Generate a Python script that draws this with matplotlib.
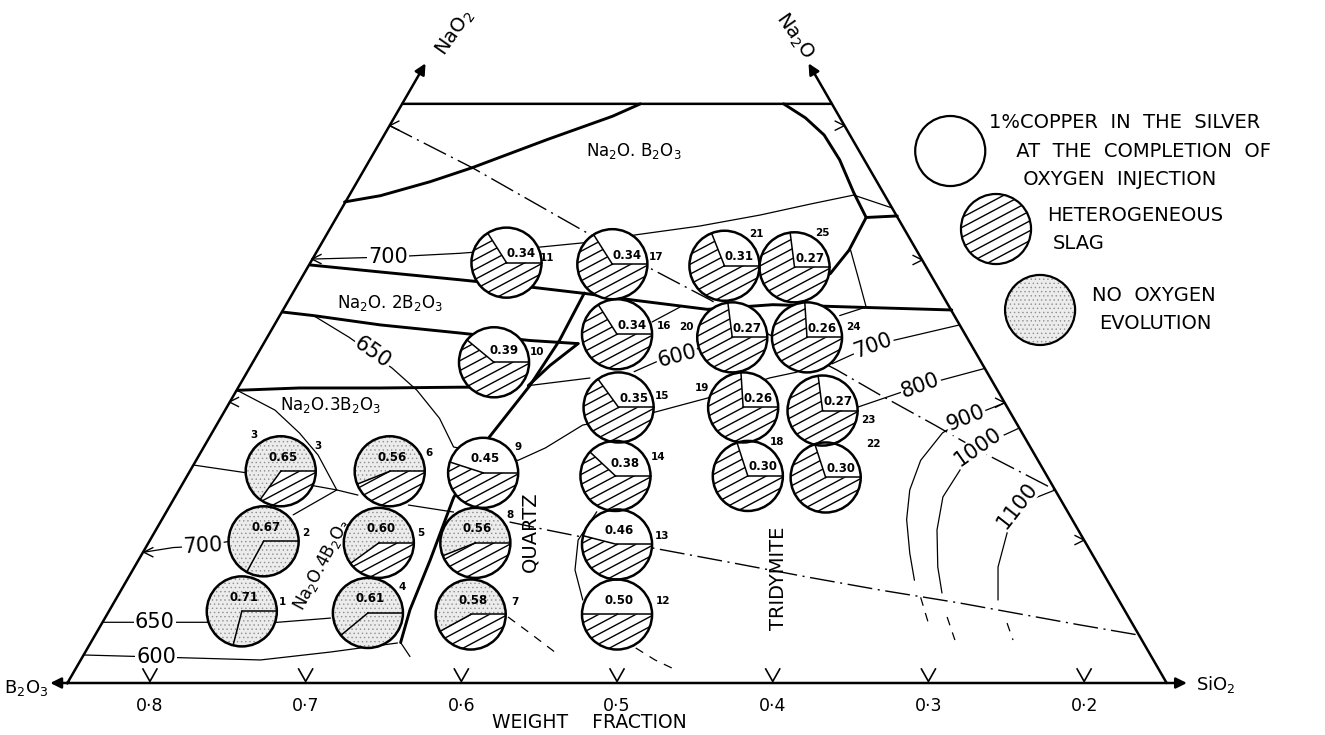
import numpy as np
import matplotlib
matplotlib.use("Agg")
from matplotlib import pyplot as plt
from matplotlib.patches import Wedge, Circle

plt.rcParams['font.family'] = ['DejaVu Sans']
plt.rcParams['hatch.linewidth'] = 0.5

# ---- data (x = weight fraction on the bottom scale, h = height in the same units)
circle_id = list(range(1, 26))
circle_x = [0.741, 0.727, 0.716, 0.660, 0.653, 0.646, 0.594, 0.591, 0.586, 0.579,
            0.571, 0.500, 0.500, 0.501, 0.499, 0.500, 0.503, 0.416, 0.419, 0.426,
            0.431, 0.366, 0.368, 0.378, 0.386]
circle_h = [0.046, 0.091, 0.136, 0.045, 0.090, 0.136, 0.044, 0.090, 0.135, 0.206,
            0.270, 0.044, 0.089, 0.133, 0.177, 0.224, 0.269, 0.133, 0.177, 0.222,
            0.268, 0.132, 0.175, 0.222, 0.267]
copper = [0.71, 0.67, 0.65, 0.61, 0.60, 0.56, 0.58, 0.56, 0.45, 0.39,
          0.34, 0.50, 0.46, 0.38, 0.35, 0.34, 0.34, 0.30, 0.26, 0.27,
          0.31, 0.30, 0.27, 0.26, 0.27]
# s = no oxygen evolution, sh = no evolution + heterogeneous slag, wh = heterogeneous slag
slag = ['s', 's', 'sh', 's', 'sh', 'sh', 'sh', 'sh'] + ['wh'] * 17

tick_values = [0.8, 0.7, 0.6, 0.5, 0.4, 0.3, 0.2]
tick_labels = ["0·8", "0·7", "0·6", "0·5", "0·4", "0·3", "0·2"]

corners = [(0.853, 0.0), (0.638, 0.372), (0.362, 0.372), (0.147, 0.0)]

# phase boundaries
bnd_nb = [(0.675, 0.309), (0.652, 0.313), (0.620, 0.322), (0.593, 0.331), (0.545, 0.349),
          (0.503, 0.364), (0.485, 0.372)]
bnd_right = [(0.393, 0.372), (0.379, 0.363), (0.367, 0.352), (0.357, 0.336), (0.348, 0.315),
             (0.340, 0.299), (0.351, 0.278), (0.363, 0.263), (0.372, 0.258)]
bnd_right2 = [(0.340, 0.299), (0.320, 0.300)]
bnd_n2b = [(0.697, 0.2685), (0.652, 0.264), (0.601, 0.259), (0.553, 0.254), (0.519, 0.250),
           (0.490, 0.246), (0.442, 0.240), (0.400, 0.243), (0.350, 0.2415), (0.285, 0.2396)]
bnd_n3b = [(0.715, 0.2383), (0.695, 0.236), (0.652, 0.230), (0.601, 0.2248), (0.556, 0.220),
           (0.525, 0.218)]
bnd_n4b = [(0.744, 0.188), (0.704, 0.1895), (0.652, 0.1895), (0.601, 0.190), (0.590, 0.190)]
bnd_quartz = [(0.521, 0.2505), (0.537, 0.220), (0.556, 0.191), (0.582, 0.158), (0.605, 0.119),
              (0.620, 0.079), (0.633, 0.047), (0.639, 0.026)]
bnd_quartz2 = [(0.525, 0.218), (0.543, 0.204), (0.557, 0.191)]

# isotherms
iso_700_top = [(0.696, 0.2723), (0.647, 0.2736), (0.601, 0.276), (0.5495, 0.280), (0.519, 0.283),
               (0.487, 0.288), (0.447, 0.2935), (0.408, 0.3006), (0.376, 0.3076), (0.348, 0.3134)]
iso_650_mid = [(0.695, 0.236), (0.672, 0.222), (0.6445, 0.2023), (0.6285, 0.188), (0.614, 0.170),
               (0.605, 0.1516), (0.5636, 0.143), (0.546, 0.151), (0.522, 0.1657), (0.4756, 0.174),
               (0.442, 0.183), (0.4018, 0.196), (0.3844, 0.1997)]
iso_600_mid = [(0.489, 0.200), (0.472, 0.2075), (0.4615, 0.210), (0.4435, 0.2164)]
iso_700_right = [(0.362, 0.205), (0.3356, 0.217), (0.280, 0.230)]
iso_800 = [(0.346, 0.177), (0.305, 0.191), (0.264, 0.202)]
iso_900 = [(0.251, 0.180), (0.276, 0.170), (0.291, 0.1606), (0.305, 0.143), (0.312, 0.124),
           (0.314, 0.105), (0.312, 0.0835), (0.309, 0.066)]
iso_1000 = [(0.2416, 0.1638), (0.268, 0.1516), (0.2785, 0.1387), (0.2907, 0.1195),
            (0.2945, 0.0983), (0.294, 0.0745), (0.2913, 0.0578)]
iso_1100 = [(0.2186, 0.124), (0.243, 0.1143), (0.2495, 0.0963), (0.2553, 0.0745), (0.2553, 0.0533)]
iso_700_low = [(0.804, 0.084), (0.785, 0.087), (0.766, 0.088), (0.749, 0.091)]
iso_650_low = [(0.830, 0.039), (0.797, 0.039), (0.763, 0.039), (0.718, 0.039), (0.684, 0.0417)]
iso_600_low = [(0.8426, 0.018), (0.796, 0.0167), (0.729, 0.0148), (0.684, 0.0199), (0.641, 0.0257)]

other_thin = [
    [(0.744, 0.188), (0.7197, 0.1753), (0.704, 0.1606), (0.692, 0.1464), (0.680, 0.124), (0.6664, 0.1207)],
    [(0.708, 0.108), (0.680, 0.124)],
    [(0.6966, 0.127), (0.680, 0.124)],
    [(0.634, 0.1143), (0.605, 0.1098)],
    [(0.772, 0.140), (0.738, 0.135)],
    [(0.639, 0.026), (0.633, 0.017)],
    [(0.513, 0.110), (0.525, 0.0918), (0.527, 0.0726), (0.522, 0.0533)],
    [(0.557, 0.191), (0.5174, 0.1959)],
    [(0.4775, 0.2319), (0.4595, 0.2415)],
    [(0.350, 0.278), (0.345, 0.260), (0.340, 0.2415)],
    [(0.357, 0.236), (0.340, 0.2415)],
    [(0.348, 0.3134), (0.323, 0.305)],
]

dashdot_upper = [(0.646, 0.358), (0.593, 0.331), (0.556, 0.310), (0.519, 0.289), (0.479, 0.2665),
                 (0.440, 0.246), (0.4018, 0.2235), (0.3587, 0.201), (0.331, 0.185), (0.296, 0.1657),
                 (0.265, 0.148), (0.2186, 0.124)]
dashdot_lower = [(0.569, 0.1034), (0.545, 0.0983), (0.5225, 0.0938), (0.477, 0.0867), (0.4255, 0.0771),
                 (0.378, 0.0681), (0.331, 0.0597), (0.280, 0.0514), (0.2027, 0.0373), (0.165, 0.0308)]
dashed = [
    [(0.305, 0.055), (0.299, 0.035)],
    [(0.288, 0.0424), (0.283, 0.0276)],
    [(0.2495, 0.0385), (0.2457, 0.0276)],
    [(0.570, 0.0424), (0.556, 0.0321), (0.540, 0.0199)],
    [(0.488, 0.0225), (0.4756, 0.0148), (0.462, 0.0083)],
]

iso_labels = ["700", "650", "600", "700", "800", "900", "1000", "1100", "700", "650", "600"]
legend_lines = [["1%COPPER  IN  THE  SILVER", " AT  THE  COMPLETION  OF", " OXYGEN  INJECTION"],
                ["HETEROGENEOUS", "SLAG"],
                ["NO  OXYGEN", "EVOLUTION"]]

# ---- drawing
fig = plt.figure(figsize=(13.25, 7.35), dpi=100)
ax = fig.add_axes([0, 0, 1, 1])
ax.set_xlim(0.8963, 0.0453)
ax.set_ylim(-0.0334, 0.4387)
ax.axis('off')

R = 0.0225
HATCH_ANG = np.radians(28)


def line(pts, **kw):
    p = np.array(pts)
    ax.plot(p[:, 0], p[:, 1], color='k', solid_capstyle='round', **kw)


# triangle
tri = np.array(corners + [corners[0]])
ax.plot(tri[:, 0], tri[:, 1], color='k', lw=1.8, zorder=3)
arrow = dict(arrowstyle='-|>', lw=1.8, color='k', mutation_scale=16, shrinkA=0, shrinkB=0)
ax.annotate('', xy=(0.623, 0.398), xytext=corners[1], arrowprops=arrow)
ax.annotate('', xy=(0.377, 0.398), xytext=corners[2], arrowprops=arrow)
ax.annotate('', xy=(0.864, 0.0), xytext=corners[0], arrowprops=arrow)
ax.annotate('', xy=(0.134, 0.0), xytext=corners[3], arrowprops=arrow)

for c in [bnd_nb, bnd_right, bnd_right2, bnd_n2b, bnd_n3b, bnd_n4b, bnd_quartz, bnd_quartz2]:
    line(c, lw=2.1, zorder=2)
for c in [iso_700_top, iso_650_mid, iso_600_mid, iso_700_right, iso_800, iso_900, iso_1000,
          iso_1100, iso_700_low, iso_650_low, iso_600_low] + other_thin:
    line(c, lw=0.9, zorder=2)
for c in [dashdot_upper, dashdot_lower]:
    line(c, lw=1.0, zorder=2, linestyle=(0, (18, 4, 1.5, 4)))
for c in dashed:
    line(c, lw=0.9, zorder=2, linestyle=(0, (7, 6)))

# chevrons on the edges
a = 0.0065
for (x, h) in [(0.646, 0.358), (0.696, 0.2723), (0.749, 0.1805), (0.804, 0.084)]:
    ax.plot([x - a * 0.9, x, x - a * 0.9], [h + a * 0.45, h, h - a * 0.45], color='k', lw=1.0)
for (x, h) in [(0.354, 0.358), (0.304, 0.2717), (0.251, 0.180), (0.200, 0.0918)]:
    ax.plot([x + a * 0.9, x, x + a * 0.9], [h + a * 0.45, h, h - a * 0.45], color='k', lw=1.0)

# bottom ticks and labels
for v, lab in zip(tick_values, tick_labels):
    ax.plot([v + 0.0045, v, v - 0.0045], [0.009, 0.001, 0.009], color='k', lw=1.2)
    ax.text(v, -0.0145, lab, ha='center', va='center', fontsize=12.5)
ax.text(0.518, -0.0255, "WEIGHT    FRACTION", ha='center', va='center', fontsize=13.5)
ax.text(0.8655, -0.003, r"B$_2$O$_3$", ha='right', va='center', fontsize=13)
ax.text(0.128, -0.001, r"SiO$_2$", ha='left', va='center', fontsize=13)
ax.text(0.604, 0.4175, r"NaO$_2$", ha='center', va='center', fontsize=14, rotation=55)
ax.text(0.386, 0.4155, r"Na$_2$O", ha='center', va='center', fontsize=14, rotation=-55)

# isotherm labels
iso_pos = [(0.647, 0.2736, 0), (0.657, 0.212, -35), (0.4615, 0.210, 15), (0.3356, 0.217, 20),
           (0.305, 0.191, 20), (0.276, 0.170, 22), (0.268, 0.1516, 35), (0.243, 0.1143, 52),
           (0.766, 0.088, 3), (0.797, 0.039, 0), (0.796, 0.0167, 0)]
for lab, (x, h, r) in zip(iso_labels, iso_pos):
    ax.text(x, h, lab, ha='center', va='center', fontsize=15, rotation=r, zorder=4,
            bbox=dict(boxstyle='square,pad=0.05', fc='white', ec='none'))

# phase field names
ax.text(0.489, 0.342, r"Na$_2$O. B$_2$O$_3$", ha='center', va='center', fontsize=12)
ax.text(0.646, 0.244, r"Na$_2$O. 2B$_2$O$_3$", ha='center', va='center', fontsize=12)
ax.text(0.684, 0.1785, r"Na$_2$O.3B$_2$O$_3$", ha='center', va='center', fontsize=12)
ax.text(0.6895, 0.0758, r"Na$_2$O.4B$_2$O$_3$", ha='center', va='center', fontsize=12, rotation=62)
ax.text(0.556, 0.097, "QUARTZ", ha='center', va='center', fontsize=14, rotation=90)
ax.text(0.396, 0.0674, "TRIDYMITE", ha='center', va='center', fontsize=14, rotation=90)


def hatch_lines(patch, cx, cy):
    d = np.array([-np.cos(HATCH_ANG), np.sin(HATCH_ANG)])
    n = np.array([np.sin(HATCH_ANG), np.cos(HATCH_ANG)])
    for k in range(-5, 6):
        p0 = np.array([cx, cy]) + k * 0.0056 * n - 1.5 * R * d
        p1 = np.array([cx, cy]) + k * 0.0056 * n + 1.5 * R * d
        ln, = ax.plot([p0[0], p1[0]], [p0[1], p1[1]], color='k', lw=1.0, zorder=6)
        ln.set_clip_path(patch)


def fill_part(cx, cy, t1, t2, style):
    if style == 's':
        w = Wedge((cx, cy), R, t1, t2, facecolor='#ececec', edgecolor='#8f8f8f',
                  hatch='....', lw=0, zorder=5)
        ax.add_patch(w)
    else:
        w = Wedge((cx, cy), R, t1, t2, facecolor='white', edgecolor='none', zorder=5)
        ax.add_patch(w)
        if style == 'h':
            hatch_lines(w, cx, cy)


def sample(cx, cy, v, kind):
    # open sector runs anticlockwise on screen from 3 o'clock; x axis is reversed
    top = 180 - 360 * v
    top_style, low_style = {'s': ('s', 's'), 'sh': ('s', 'h'), 'wh': ('w', 'h')}[kind]
    fill_part(cx, cy, top, 180, top_style)
    fill_part(cx, cy, -180, top, low_style)
    ax.add_patch(Circle((cx, cy), R, fill=False, lw=1.8, ec='k', zorder=7))
    ax.plot([cx, cx - R], [cy, cy], color='k', lw=1.1, zorder=7)
    ax.plot([cx, cx + R * np.cos(np.radians(top))], [cy, cy + R * np.sin(np.radians(top))],
            color='k', lw=1.1, zorder=7)


num_off = {1: (41, 9), 2: (42, 8), 3: (37, 25), 4: (34, 26), 5: (42, 10), 6: (39, 18), 7: (44, 12),
           8: (35, 28), 9: (35, 26), 10: (43, 10), 11: (41, 5), 12: (46, 13), 13: (45, 8),
           14: (43, 19), 15: (43, 11), 16: (47, 8), 17: (44, 7), 18: (29, 34), 19: (-41, 19),
           20: (-46, 10), 21: (32, 32), 22: (48, 33), 23: (46, -9), 24: (46, 10), 25: (28, 34)}

for i, x, h, v, k in zip(circle_id, circle_x, circle_h, copper, slag):
    sample(x, h, v, k)
    if v < 0.37:
        off = (15, 9)
    elif v < 0.42:
        off = (10, 12)
    else:
        off = (2, 14)
    ax.annotate(f"{v:.2f}", (x, h), xytext=(off[0] * 0.72, off[1] * 0.72),
                textcoords='offset points', ha='center', va='center', fontsize=8.5,
                fontweight='bold', zorder=8)
    dx, dy = num_off[i]
    ax.annotate(str(i), (x, h), xytext=(dx * 0.72, dy * 0.72), textcoords='offset points',
                ha='center', va='center', fontsize=7.5, fontweight='bold', zorder=8)
ax.annotate("3", (circle_x[2], circle_h[2]), xytext=(-27 * 0.72, 36 * 0.72),
            textcoords='offset points', ha='center', va='center', fontsize=7.5, fontweight='bold')

# legend
leg_pos = [(0.286, 0.3417), (0.2566, 0.2916), (0.2283, 0.2396)]
leg_kind = ['w', 'h', 's']
for (x, h), k in zip(leg_pos, leg_kind):
    fill_part(x, h, 0, 360, k)
    ax.add_patch(Circle((x, h), R, fill=False, lw=1.6, ec='k', zorder=7))
leg_text_pos = [[(0.261, 0.3597), (0.2476, 0.3417), (0.2431, 0.3237)],
                [(0.2238, 0.3006), (0.2200, 0.2826)],
                [(0.1949, 0.2492), (0.1905, 0.2312)]]
for lines, poss in zip(legend_lines, leg_text_pos):
    for t, (x, h) in zip(lines, poss):
        ax.text(x, h, t, ha='left', va='center', fontsize=14)

fig.savefig("out.png", dpi=100)
